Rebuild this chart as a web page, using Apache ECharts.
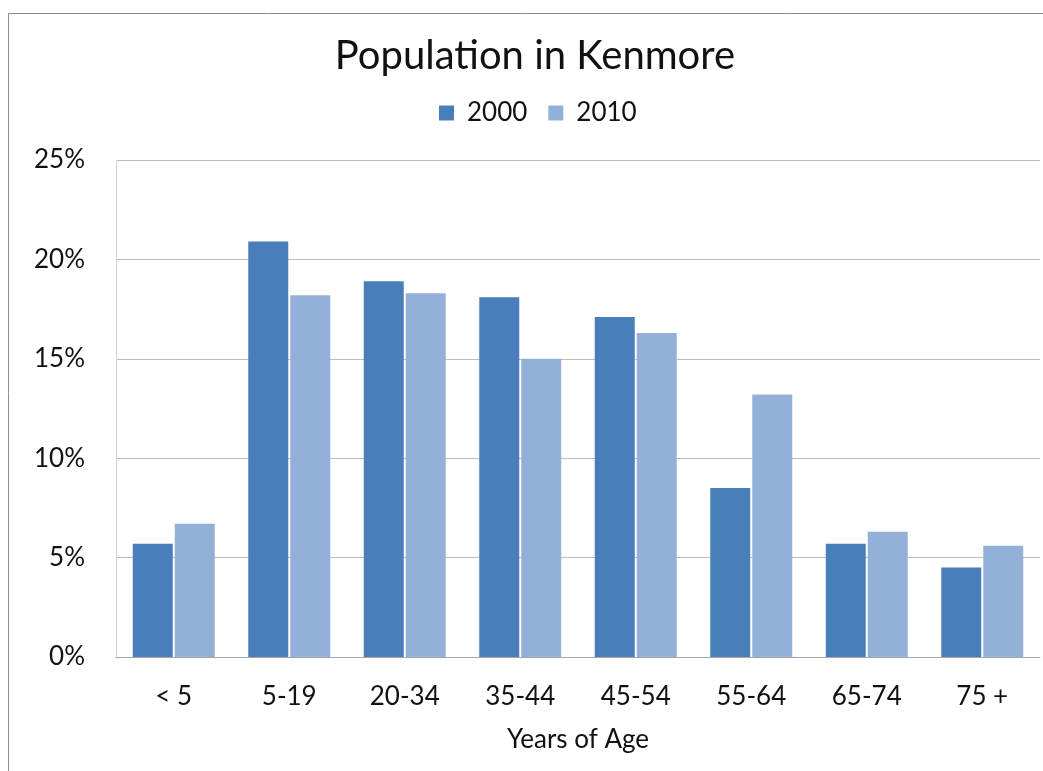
<!DOCTYPE html>
<html>
<head>
<meta charset="utf-8">
<script src="https://cdn.jsdelivr.net/npm/echarts@6/dist/echarts.min.js"></script>
<style>
html,body{margin:0;padding:0;background:#fff;}
#chart{width:1043px;height:771px;}
</style>
</head>
<body>
<div id="chart"></div>
<script>
const categories = ['< 5', '5-19', '20-34', '35-44', '45-54', '55-64', '65-74', '75 +'];
const seriesNames = ['2000', '2010'];
const values2000 = [5.7, 20.9, 18.9, 18.1, 17.1, 8.5, 5.7, 4.5];
const values2010 = [6.7, 18.2, 18.3, 15.0, 16.3, 13.2, 6.3, 5.6];
const yTicks = [0, 5, 10, 15, 20, 25];

const FONT = 'Lato';
const TXT = '#111111';
const chart = echarts.init(document.getElementById('chart'), null, {renderer: 'canvas'});
chart.setOption({
  backgroundColor: '#ffffff',
  animation: false,
  graphic: [{
    type: 'rect',
    shape: {x: 8.5, y: 13.5, width: 1200, height: 900},
    style: {fill: 'none', stroke: '#8c8c8c', lineWidth: 1},
    silent: true, z: -1
  }],
  title: {
    text: 'Population in Kenmore',
    left: 530, top: 31, textAlign: 'center',
    textStyle: {fontFamily: FONT, fontSize: 40, fontWeight: 'normal', color: TXT}
  },
  legend: {
    data: seriesNames,
    top: 95,
    left: 434,
    itemWidth: 15, itemHeight: 15, itemGap: 21,
    icon: 'rect',
    textStyle: {fontFamily: FONT, fontSize: 26, color: TXT, padding: [0,0,0,8]}
  },
  grid: {left: 116, right: 3, top: 160, bottom: 114, containLabel: false},
  xAxis: {
    type: 'category',
    data: categories,
    name: 'Years of Age',
    nameLocation: 'middle',
    nameGap: 70,
    nameTextStyle: {fontFamily: FONT, fontSize: 26, color: TXT},
    axisLine: {show: true, lineStyle: {color: '#a6a6a6', width: 1}},
    axisTick: {show: false},
    axisLabel: {fontFamily: FONT, fontSize: 26, color: TXT, margin: 27}
  },
  yAxis: {
    type: 'value',
    min: yTicks[0], max: yTicks[yTicks.length - 1], interval: 5,
    axisLine: {show: true, lineStyle: {color: '#d0d0d0', width: 1}},
    axisTick: {show: false},
    splitLine: {show: true, lineStyle: {color: '#bdbdbd', width: 1}},
    axisLabel: {fontFamily: FONT, fontSize: 26, color: TXT, margin: 31, formatter: v => v + '%'}
  },
  series: [
    {name: seriesNames[0], type: 'bar', data: values2000, barWidth: 40, barGap: '5%',
     itemStyle: {color: '#4a7ebb'}},
    {name: seriesNames[1], type: 'bar', data: values2010, barWidth: 40,
     itemStyle: {color: '#93b1d8'}}
  ]
});
</script>
</body>
</html>
